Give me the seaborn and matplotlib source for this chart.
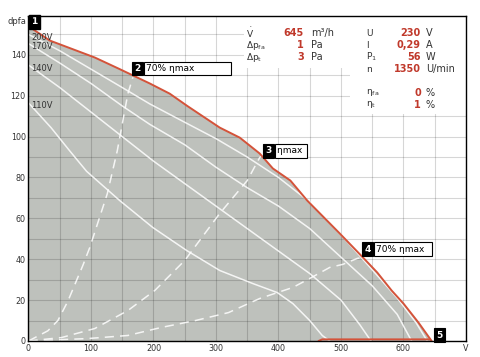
import matplotlib
matplotlib.use("Agg")
import matplotlib.pyplot as plt
from matplotlib.patches import Rectangle
import seaborn as sns
import pandas as pd

# ---------------- data ----------------
max_q = [0, 34, 106, 146, 194, 226, 254, 306, 338, 370, 391, 419, 446, 498, 535, 558, 581, 600, 624, 645]
max_p = [154, 147, 138.7, 133, 126, 121, 115, 104.4, 99.5, 91.7, 84.4, 78.5, 68.7, 52.6, 40.9, 33.5, 24.7, 18.3, 9, 0]

v200_q = [0, 50, 100, 150, 194, 250, 300, 350, 400, 450, 500, 535, 590, 620, 638]
v200_p = [150, 142, 133, 124, 116, 107, 99, 90, 80, 68, 52, 40, 21, 9, 0]
v170_q = [0, 50, 100, 150, 194, 250, 300, 350, 400, 450, 500, 550, 590, 613]
v170_p = [145.5, 136, 126, 115, 106, 96, 85, 75, 66, 55, 41, 27, 13, 0]
v140_q = [0, 50, 100, 150, 200, 250, 300, 350, 400, 450, 500, 530, 548]
v140_p = [135, 124, 112, 100, 88, 77, 66, 55, 44, 33, 20, 8, 0]
v110_q = [0, 36, 66, 93, 146, 199, 253, 306, 359, 398, 423, 450, 470, 482]
v110_p = [116.5, 104.4, 93, 83, 68.7, 55.5, 44.3, 34.5, 28.1, 23.7, 18.3, 10, 2.7, 0]
voltage_labels = ["200V", "170V", "140V", "110V"]

d1_q = [0, 31, 47, 63, 87, 98, 126, 142, 159, 167]
d1_p = [0, 5, 10, 19.5, 37, 45.7, 72, 93, 121, 129]
d2_q = [0, 53, 106, 159, 202, 250, 306, 350, 370, 375]
d2_p = [0, 1.7, 6.1, 14.9, 24.7, 39.4, 62.4, 78.5, 89.8, 91]
d3_q = [0, 95, 159, 212, 267, 320, 370, 423, 450, 482, 503, 526, 535]
d3_p = [0, 1.2, 2.7, 6.6, 10, 13.9, 20.8, 26.2, 30.6, 36, 37.5, 40.4, 41]

min_q = [464, 470, 642]
min_p = [0, 0.8, 0.8]

x_ticks = [0, 100, 200, 300, 400, 500, 600, 700]
x_tick_labels = ["0", "100", "200", "300", "400", "500", "600", "V"]
y_ticks = [0, 20, 40, 60, 80, 100, 120, 140]
y_tick_labels = ["0", "20", "40", "60", "80", "100", "120", "140"]

tag_texts = ["70% ηmax            ", "ηmax ", "70% ηmax  "]

info_left_labels = [r"$\mathregular{\dot{V}}$", r"$\mathregular{\Delta p_{fa}}$", r"$\mathregular{\Delta p_{t}}$"]
info_left_values = ["645", "1", "3"]
info_left_units = ["m³/h", "Pa", "Pa"]
info_right_labels = ["U", "I", r"$\mathregular{P_1}$", "n", r"$\mathregular{\eta_{fa}}$", r"$\mathregular{\eta_{t}}$"]
info_right_values = ["230", "0,29", "56", "1350", "0", "1"]
info_right_units = ["V", "A", "W", "U/min", "%", "%"]

# ---------------- style ----------------
sns.set_theme(style="white")
plt.rcParams["font.family"] = ["DejaVu Sans"]

W, H = 481, 357
fig = plt.figure(figsize=(W / 100, H / 100), dpi=100)
ax = fig.add_axes([28.5 / W, 1 - 341 / H, (466 - 28.5) / W, (341 - 16) / H])
ax.set_xlim(0, 700)
ax.set_ylim(0, 159)
ax.set_facecolor("white")

RED = "#d4533a"
NUMRED = "#c0392b"
GREY = "#bec1bc"

# fill under max curve
ax.fill_between(max_q, max_p, 0, color=GREY, lw=0, zorder=1)

# grid
ax.set_xticks(x_ticks)
ax.set_xticklabels(x_tick_labels)
ax.set_yticks(y_ticks)
ax.set_yticklabels(y_tick_labels)
ax.set_xticks(list(range(50, 700, 100)), minor=True)
ax.set_yticks(list(range(10, 160, 20)), minor=True)
ax.set_axisbelow("line")
ax.grid(which="both", color="black", alpha=0.16, lw=0.8)

# white box behind info text
ax.add_patch(Rectangle((345, 133.5), 355, 26, fc="white", ec="none", zorder=2))
ax.add_patch(Rectangle((514, 111), 186, 23, fc="white", ec="none", zorder=2))

# voltage curves
curves = [(v200_q, v200_p), (v170_q, v170_p), (v140_q, v140_p), (v110_q, v110_p)]
for (q, p), lab in zip(curves, voltage_labels):
    df = pd.DataFrame({"q": q, "p": p})
    sns.lineplot(data=df, x="q", y="p", ax=ax, color="white", alpha=0.85, lw=1.1,
                 sort=False, estimator=None, zorder=3)
    ax.annotate(lab, xy=(q[0], p[0]), xytext=(3, -3), textcoords="offset pixels",
                ha="left", va="center", fontsize=6, color="#333333", zorder=7)

# efficiency / system lines (dashed)
dashed = [(d1_q, d1_p), (d2_q, d2_p), (d3_q, d3_p)]
for q, p in dashed:
    df = pd.DataFrame({"q": q, "p": p})
    sns.lineplot(data=df, x="q", y="p", ax=ax, color="white", alpha=0.85, lw=1.1,
                 sort=False, estimator=None, zorder=3).lines[-1].set_dashes([6, 4])

# max curve and min line
sns.lineplot(data=pd.DataFrame({"q": max_q, "p": max_p}), x="q", y="p", ax=ax,
             color=RED, lw=1.4, sort=False, estimator=None, zorder=4)
sns.lineplot(data=pd.DataFrame({"q": min_q, "p": min_p}), x="q", y="p", ax=ax,
             color=RED, lw=1.4, sort=False, estimator=None, zorder=4)

ax.set_xlabel("")
ax.set_ylabel("")


def tag(x, y, num, text=None, dx=0, dy=0):
    ax.annotate(num, xy=(x, y), xytext=(dx + 6, dy), textcoords="offset pixels",
                ha="center", va="center", color="white", fontweight="bold", fontsize=6.5,
                bbox=dict(boxstyle="square,pad=0.25", fc="black", ec="black", lw=0.8), zorder=8)
    if text:
        ax.annotate(text, xy=(x, y), xytext=(dx + 14, dy), textcoords="offset pixels",
                    ha="left", va="center", color="black", fontsize=6.5,
                    bbox=dict(boxstyle="square,pad=0.25", fc="white", ec="black", lw=0.8), zorder=8)


tag(d1_q[-1], d1_p[-1], "2", tag_texts[0], dx=-1, dy=9)
tag(d2_q[-1], d2_p[-1], "3", tag_texts[1], dx=0, dy=4)
tag(d3_q[-1], d3_p[-1], "4", tag_texts[2], dx=-1, dy=8)
tag(max_q[-1], max_p[-1], "5", None, dx=2, dy=6)
ax.annotate("1", xy=(0, 1), xycoords="axes fraction", xytext=(6, -6), textcoords="offset pixels",
            ha="center", va="center", color="white", fontweight="bold", fontsize=6.5,
            bbox=dict(boxstyle="square,pad=0.25", fc="black", ec="black"), zorder=8)

# axes styling
for s in ax.spines.values():
    s.set_color("black")
    s.set_linewidth(1.0)
    s.set_zorder(9)
ax.tick_params(axis="both", which="both", length=0, labelsize=5.8, labelcolor="#333333")
ax.tick_params(axis="x", pad=2)
ax.tick_params(axis="y", pad=2)

fig.text(8 / W, 1 - 22 / H, "dpfa", fontsize=6, color="#333333", ha="left", va="center")

# info text
rows_left = [33, 45, 57]
for lab, val, unit, yy in zip(info_left_labels, info_left_values, info_left_units, rows_left):
    fig.text(246 / W, 1 - yy / H, lab, fontsize=6.5, color="#333333", ha="left", va="center")
    fig.text(304 / W, 1 - yy / H, val, fontsize=7, color=NUMRED, fontweight="bold", ha="right", va="center")
    fig.text(311 / W, 1 - yy / H, unit, fontsize=7, color="#333333", ha="left", va="center")
rows_right = [33, 45, 57, 69, 93, 104.5]
for lab, val, unit, yy in zip(info_right_labels, info_right_values, info_right_units, rows_right):
    fig.text(366 / W, 1 - yy / H, lab, fontsize=6.5, color="#333333", ha="left", va="center")
    fig.text(421 / W, 1 - yy / H, val, fontsize=7, color=NUMRED, fontweight="bold", ha="right", va="center")
    fig.text(426 / W, 1 - yy / H, unit, fontsize=7, color="#333333", ha="left", va="center")

fig.savefig("out.png", dpi=100, facecolor="white")
